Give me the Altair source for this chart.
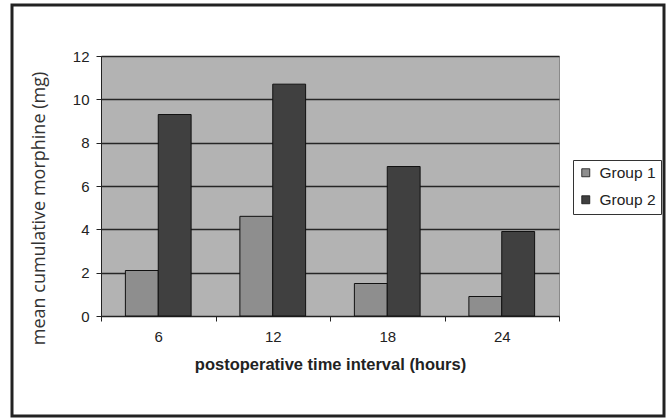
import altair as alt
import pandas as pd

hours = ["6", "12", "18", "24"]
group1 = [2.1, 4.6, 1.5, 0.9]
group2 = [9.3, 10.7, 6.9, 3.9]
groups = ["Group 1", "Group 2"]

rows = []
for h, a, b in zip(hours, group1, group2):
    rows.append({"hour": h, "group": groups[0], "value": a})
    rows.append({"hour": h, "group": groups[1], "value": b})
df = pd.DataFrame(rows)

bars = alt.Chart(df).mark_bar(stroke="#111111", strokeWidth=1).encode(
    x=alt.X("hour:N", sort=hours,
            scale=alt.Scale(paddingInner=0, paddingOuter=0),
            axis=alt.Axis(title="postoperative time interval (hours)", labelAngle=0,
                          tickBand="extent", tickSize=5, tickColor="#222222",
                          domainColor="#222222", labelFontSize=15, labelColor="#222222",
                          labelFont="Liberation Sans", labelPadding=8,
                          titleFont="Liberation Sans", titleFontSize=16.5,
                          titleFontWeight="bold", titleColor="#222222", titlePadding=12,
                          grid=False)),
    xOffset=alt.XOffset("group:N", sort=groups,
                        scale=alt.Scale(paddingInner=0, paddingOuter=0.742)),
    y=alt.Y("value:Q", scale=alt.Scale(domain=[0, 12], nice=False),
            axis=alt.Axis(title="mean cumulative morphine (mg)", values=[0, 2, 4, 6, 8, 10, 12],
                          tickSize=5, tickColor="#222222", domainColor="#222222",
                          labelFontSize=15, labelColor="#222222", labelFont="Liberation Sans",
                          labelPadding=7,
                          titleFont="Open Sans", titleFontSize=18, titleFontWeight="normal",
                          titleColor="#333333", titlePadding=24, titleY=152,
                          grid=True, gridColor="#262626", gridWidth=1.3)),
    color=alt.Color("group:N", sort=groups,
                    scale=alt.Scale(domain=groups, range=["#8e8e8e", "#404040"]),
                    legend=alt.Legend(title=None, orient="none", legendX=472, legendY=104,
                                      fillColor="white", strokeColor="#333333",
                                      padding=5, symbolType="square", symbolSize=64,
                                      symbolStrokeColor="#111111", symbolStrokeWidth=0.8,
                                      labelFontSize=15.5, labelFont="Liberation Sans",
                                      labelColor="#222222", rowPadding=10, labelOffset=6)),
)

frame = alt.Chart(pd.DataFrame({"a": [0]})).mark_rect(
    fill=None, stroke="#222222", strokeWidth=3
).encode(
    x=alt.value(-89), x2=alt.value(563), y=alt.value(-51), y2=alt.value(360)
)

chart = alt.layer(bars, frame).properties(
    width=458, height=260,
    autosize=alt.AutoSizeParams(type="none"),
    padding={"left": 101, "top": 56, "right": 112, "bottom": 102},
    background="white",
).configure_view(
    fill="#b3b3b3", stroke="#8a8a8a", strokeWidth=1
)

chart.save("out.html", embed_options={"renderer": "svg", "actions": False})
